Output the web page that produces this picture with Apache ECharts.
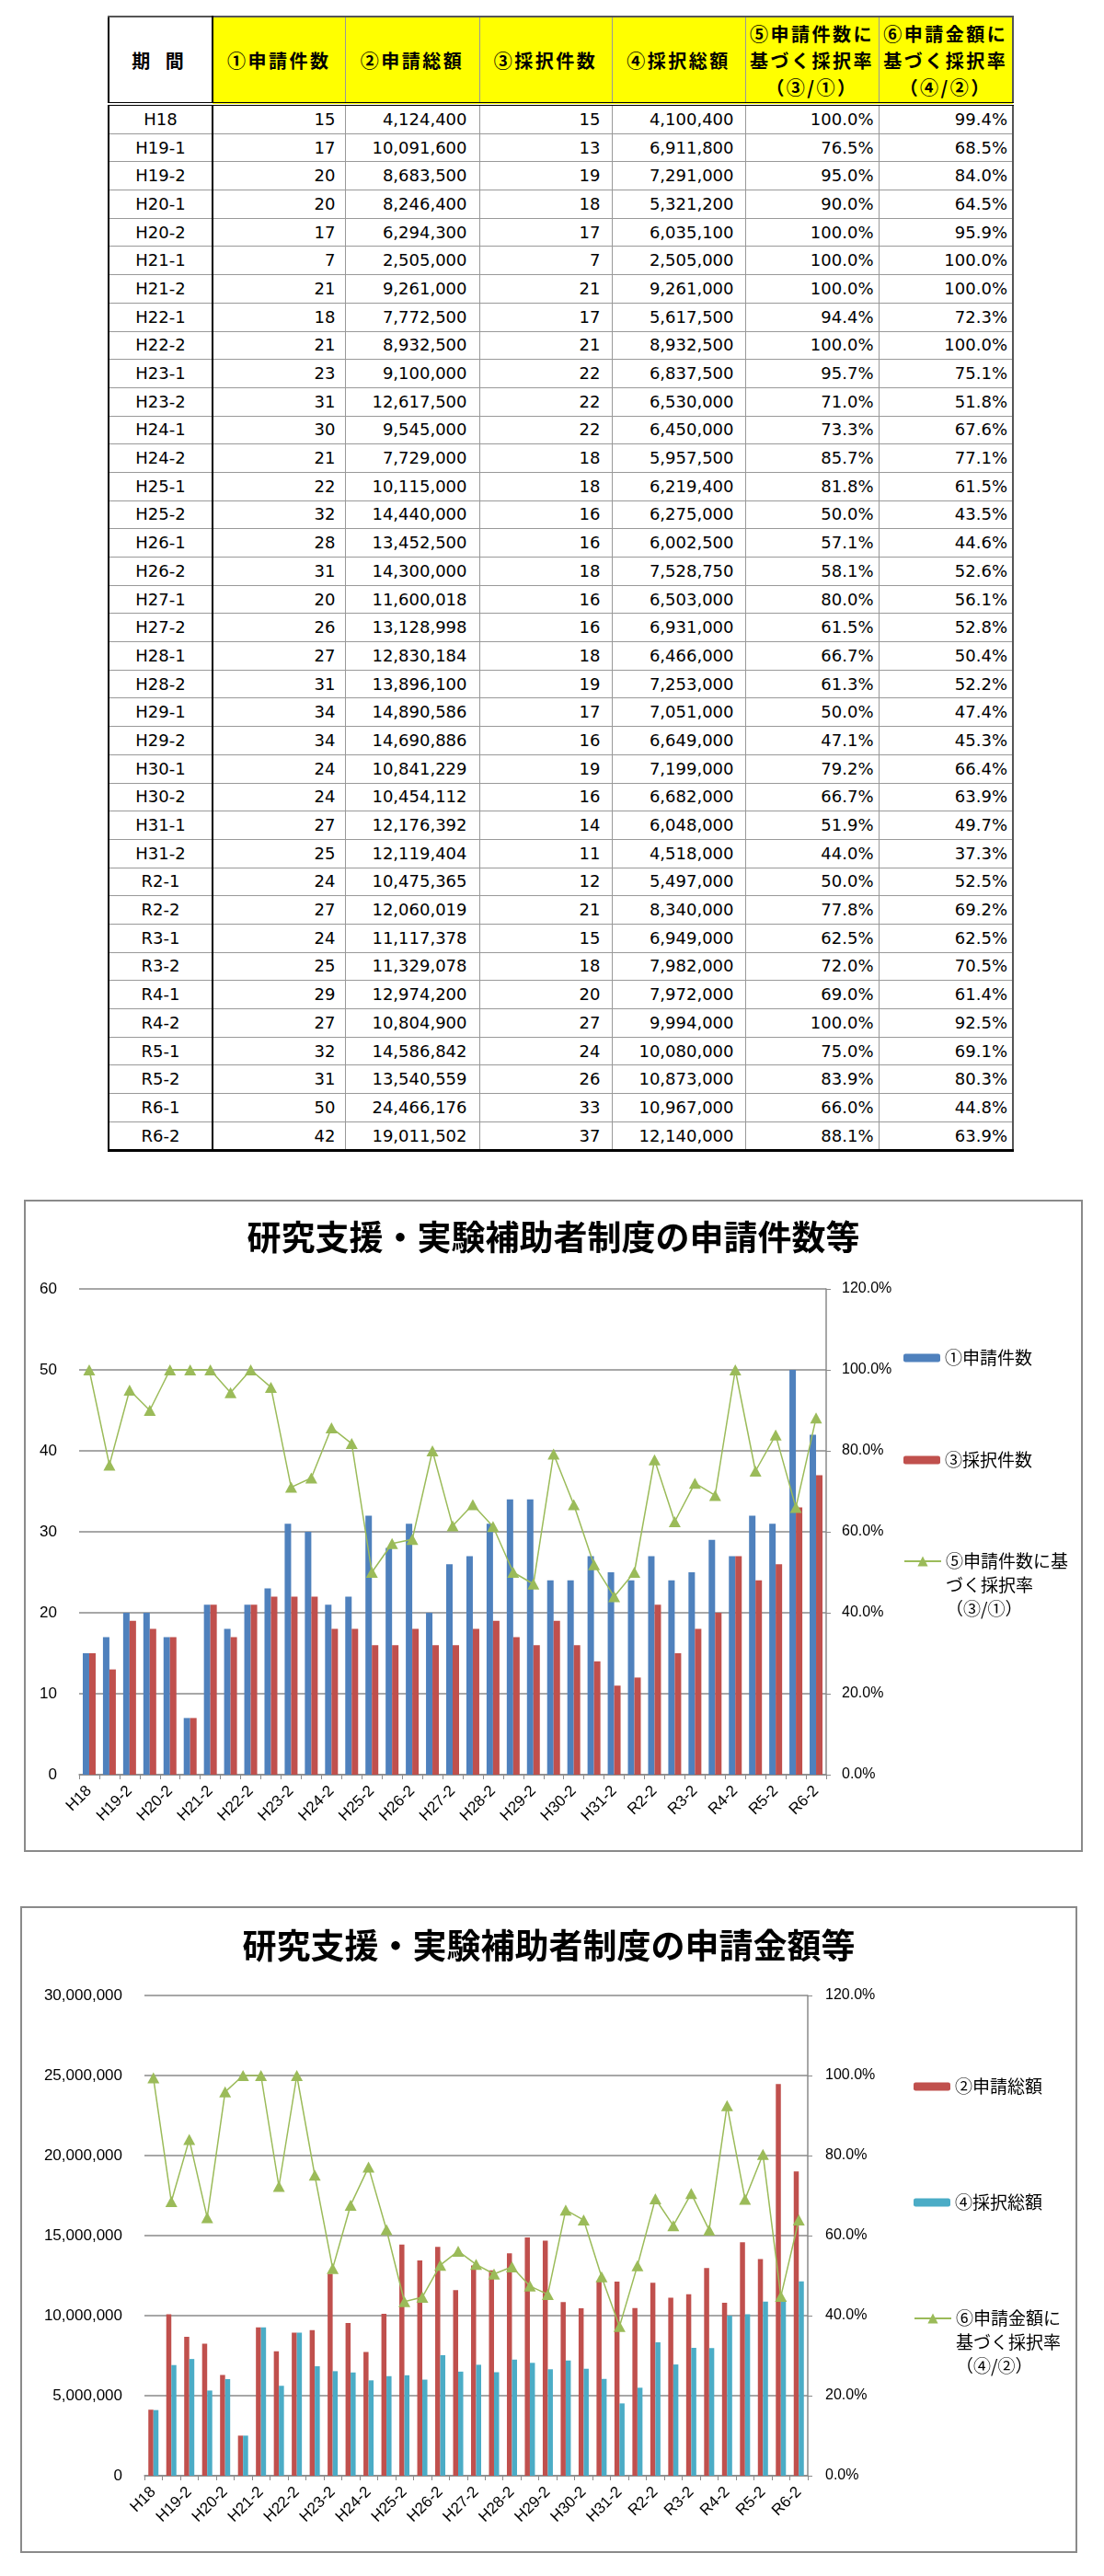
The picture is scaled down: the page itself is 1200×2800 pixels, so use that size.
<!DOCTYPE html>
<html><head><meta charset="utf-8">
<script src="https://cdn.jsdelivr.net/npm/echarts@6/dist/echarts.min.js"></script>
<style>
html,body{margin:0;padding:0;background:#fff;width:1200px;height:2800px;overflow:hidden;position:relative;}
#tbl{position:absolute;left:117px;top:17px;border-collapse:collapse;table-layout:fixed;width:983px;color:#000;
  border-top:2px solid #555;border-left:2px solid #000;border-right:2px solid #555;border-bottom:3px solid #000;}
#tbl th{font-family:'Noto Sans CJK JP',sans-serif;font-weight:bold;font-size:20px;letter-spacing:2.5px;line-height:29px;
  background:#ffff00;border:1px solid #999;border-bottom:4px double #000;height:92px;padding:0;text-align:center;white-space:nowrap;}
#tbl th.p{background:#fff;letter-spacing:6px;}
#tbl td{font-family:'DejaVu Sans',sans-serif;font-size:18px;height:29.7px;padding:0;border:1px solid #999;text-align:right;white-space:nowrap;line-height:1;}
#tbl td.p{text-align:center;}
#tbl .c0{border-right:2px solid #000;}
.frame{position:absolute;border:2px solid #8a8a8a;box-sizing:border-box;}
.chart{position:absolute;}
</style>
</head><body>
<table id="tbl"><colgroup id="cg"></colgroup><thead><tr id="hr"></tr></thead><tbody id="tb"></tbody></table>
<div class="frame" style="left:26px;top:1304px;width:1151px;height:709px;"></div>
<div id="c1" class="chart" style="left:26px;top:1304px;width:1151px;height:709px;"></div>
<div class="frame" style="left:22px;top:2072px;width:1149px;height:703px;"></div>
<div id="c2" class="chart" style="left:22px;top:2072px;width:1149px;height:703px;"></div>
<script>
// ---------- data ----------
const periods = ['H18','H19-1','H19-2','H20-1','H20-2','H21-1','H21-2','H22-1','H22-2','H23-1','H23-2','H24-1','H24-2','H25-1','H25-2','H26-1','H26-2','H27-1','H27-2','H28-1','H28-2','H29-1','H29-2','H30-1','H30-2','H31-1','H31-2','R2-1','R2-2','R3-1','R3-2','R4-1','R4-2','R5-1','R5-2','R6-1','R6-2'];
const appCount = [15,17,20,20,17,7,21,18,21,23,31,30,21,22,32,28,31,20,26,27,31,34,34,24,24,27,25,24,27,24,25,29,27,32,31,50,42];
const appAmount = [4124400,10091600,8683500,8246400,6294300,2505000,9261000,7772500,8932500,9100000,12617500,9545000,7729000,10115000,14440000,13452500,14300000,11600018,13128998,12830184,13896100,14890586,14690886,10841229,10454112,12176392,12119404,10475365,12060019,11117378,11329078,12974200,10804900,14586842,13540559,24466176,19011502];
const adoptCount = [15,13,19,18,17,7,21,17,21,22,22,22,18,18,16,16,18,16,16,18,19,17,16,19,16,14,11,12,21,15,18,20,27,24,26,33,37];
const adoptAmount = [4100400,6911800,7291000,5321200,6035100,2505000,9261000,5617500,8932500,6837500,6530000,6450000,5957500,6219400,6275000,6002500,7528750,6503000,6931000,6466000,7253000,7051000,6649000,7199000,6682000,6048000,4518000,5497000,8340000,6949000,7982000,7972000,9994000,10080000,10873000,10967000,12140000];
const rateCount = [100.0,76.5,95.0,90.0,100.0,100.0,100.0,94.4,100.0,95.7,71.0,73.3,85.7,81.8,50.0,57.1,58.1,80.0,61.5,66.7,61.3,50.0,47.1,79.2,66.7,51.9,44.0,50.0,77.8,62.5,72.0,69.0,100.0,75.0,83.9,66.0,88.1];
const rateAmount = [99.4,68.5,84.0,64.5,95.9,100.0,100.0,72.3,100.0,75.1,51.8,67.6,77.1,61.5,43.5,44.6,52.6,56.1,52.8,50.4,52.2,47.4,45.3,66.4,63.9,49.7,37.3,52.5,69.2,62.5,70.5,61.4,92.5,69.1,80.3,44.8,63.9];
const headers = ['期 間','①申請件数','②申請総額','③採択件数','④採択総額','⑤申請件数に\n基づく採択率\n（③/①）','⑥申請金額に\n基づく採択率\n（④/②）'];
const title1 = '研究支援・実験補助者制度の申請件数等';
const title2 = '研究支援・実験補助者制度の申請金額等';
const nameAppCount = '①申請件数', nameAdoptCount = '③採択件数', nameRateCount = '⑤申請件数に基づく採択率（③/①）';
const nameAppAmount = '②申請総額', nameAdoptAmount = '④採択総額', nameRateAmount = '⑥申請金額に基づく採択率（④/②）';
const legendRateCount = '⑤申請件数に基\nづく採択率\n（③/①）';
const legendRateAmount = '⑥申請金額に\n基づく採択率\n（④/②）';

// ---------- table ----------
const colW = [113,144,146,144,145,145,146];
const padR = [0,10,13,12,12,5,5];
const cg = document.getElementById('cg');
colW.forEach(w=>{const c=document.createElement('col');c.style.width=w+'px';cg.appendChild(c);});
const hr = document.getElementById('hr');
headers.forEach((h,i)=>{const th=document.createElement('th');th.innerHTML=h.split('\n').join('<br>');if(i===0)th.className='p c0';hr.appendChild(th);});
const fmt = n => n.toLocaleString('en-US');
const tb = document.getElementById('tb');
periods.forEach((p,i)=>{
  const tr=document.createElement('tr');
  const vals=[p,String(appCount[i]),fmt(appAmount[i]),String(adoptCount[i]),fmt(adoptAmount[i]),rateCount[i].toFixed(1)+'%',rateAmount[i].toFixed(1)+'%'];
  vals.forEach((v,j)=>{const td=document.createElement('td');td.textContent=v;if(j===0)td.className='p c0';else td.style.paddingRight=padR[j]+'px';tr.appendChild(td);});
  tb.appendChild(tr);
});

// ---------- charts ----------
const GRAY='#8a8a8a';
const axisFont='Liberation Sans';
const cjk='Noto Sans CJK JP';
function makeOption(o){
  const legTS={fontSize:19,fontFamily:cjk,color:'#000',lineHeight:26};
  return {
    animation:false,
    title:{text:o.title,left:'center',top:o.titleTop,padding:0,textStyle:{fontFamily:cjk,fontWeight:'bold',fontSize:37,color:'#000'}},
    grid:{left:o.grid[0],right:o.grid[1],top:o.grid[2],bottom:o.grid[3],containLabel:false,outerBoundsMode:'none'},
    legend:[
      {data:[o.names[0]],left:o.legLeft,top:o.legY[0]-13,padding:0,itemWidth:40,itemHeight:9,textStyle:legTS,selectedMode:false},
      {data:[o.names[1]],left:o.legLeft,top:o.legY[1]-13,padding:0,itemWidth:40,itemHeight:9,textStyle:legTS,selectedMode:false},
      {data:[o.names[2]],left:o.legLeft,top:o.legY[2]-65,padding:0,itemWidth:40,itemHeight:14,textStyle:legTS,selectedMode:false,
       formatter:()=>'\n\n'+o.legText}
    ],
    xAxis:{type:'category',data:periods,boundaryGap:true,
      axisLine:{show:true,lineStyle:{color:GRAY,width:1.5}},
      axisTick:{show:true,interval:0,length:5,lineStyle:{color:GRAY,width:1}},
      axisLabel:{interval:1,rotate:45,fontSize:17,fontFamily:axisFont,color:'#000',margin:15},
      splitLine:{show:false}},
    yAxis:[
      {type:'value',min:0,max:o.leftMax,interval:o.leftInt,
        axisLine:{show:false},axisTick:{show:false},
        splitLine:{show:true,lineStyle:{color:GRAY,width:1.5}},
        axisLabel:{fontSize:17,fontFamily:axisFont,color:'#000',margin:24,formatter:o.leftFmt}},
      {type:'value',position:'right',min:0,max:120,interval:20,
        axisLine:{show:true,lineStyle:{color:GRAY,width:1.5}},
        axisTick:{show:true,length:5,lineStyle:{color:GRAY,width:1}},
        splitLine:{show:false},
        axisLabel:{fontSize:16,fontFamily:axisFont,color:'#000',margin:o.rightMargin,formatter:v=>v.toFixed(1)+'%'}}
    ],
    series:[
      {name:o.names[0],type:'bar',data:o.d0,barWidth:o.barW,barGap:'0%',itemStyle:{color:o.colors[0]}},
      {name:o.names[1],type:'bar',data:o.d1,barWidth:o.barW,barGap:'0%',itemStyle:{color:o.colors[1]}},
      {name:o.names[2],type:'line',yAxisIndex:1,data:o.d2,symbol:'triangle',symbolSize:[13,12],showAllSymbol:true,
        lineStyle:{color:'#9BBB59',width:1.5},itemStyle:{color:'#9BBB59'},z:5}
    ]
  };
}
const c1 = echarts.init(document.getElementById('c1'));
c1.setOption(makeOption({
  title:title1,titleTop:22,grid:[60,279,97,84],
  names:[nameAppCount,nameAdoptCount,nameRateCount],legText:legendRateCount,
  legLeft:956,legY:[172,283,393],
  leftMax:60,leftInt:10,leftFmt:v=>String(v),rightMargin:17,
  d0:appCount,d1:adoptCount,d2:rateCount,barW:7,colors:['#4F81BD','#C0504D']
}));
const c2 = echarts.init(document.getElementById('c2'));
c2.setOption(makeOption({
  title:title2,titleTop:24,grid:[135,293,97,84],
  names:[nameAppAmount,nameAdoptAmount,nameRateAmount],legText:legendRateAmount,
  legLeft:971,legY:[196,322,448],
  leftMax:30000000,leftInt:5000000,leftFmt:v=>v.toLocaleString('en-US'),rightMargin:19,
  d0:appAmount,d1:adoptAmount,d2:rateAmount,barW:5.5,colors:['#C0504D','#4BACC6']
}));
</script>
</body></html>
